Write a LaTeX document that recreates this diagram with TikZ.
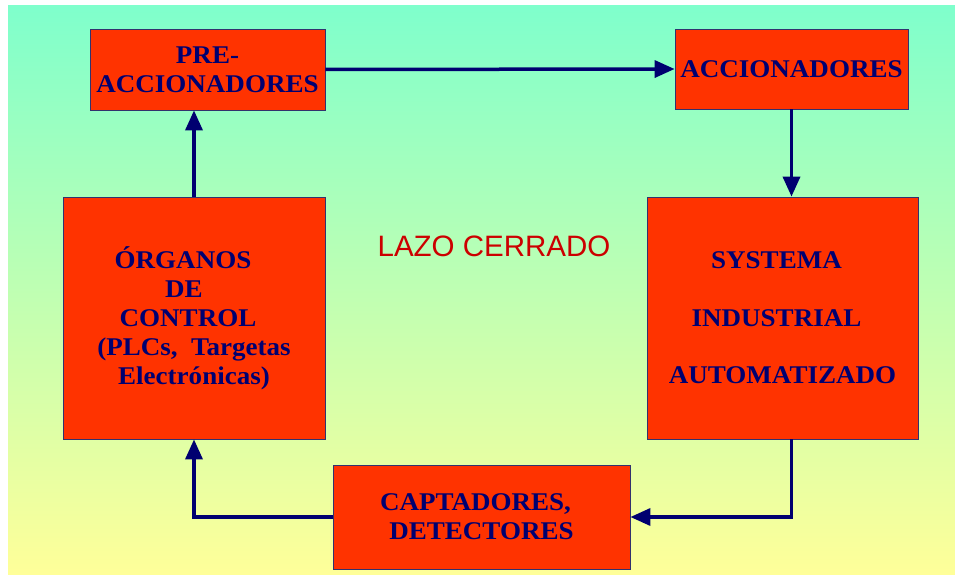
\documentclass[tikz,border=0pt]{standalone}
\usepackage{fontspec}
\setmainfont{Liberation Serif}
\newfontfamily\boxfont[FakeStretch=1.06]{Liberation Serif}
\newfontfamily\arialf{Liberation Sans}
\usetikzlibrary{arrows.meta,calc}
\definecolor{bgtop}{RGB}{127,255,204}
\definecolor{bgbot}{RGB}{255,255,153}
\definecolor{boxred}{RGB}{255,51,0}
\definecolor{navy}{RGB}{0,0,112}
\definecolor{boxline}{RGB}{50,50,110}
\definecolor{titlered}{RGB}{204,0,0}
\begin{document}
\begin{tikzpicture}[x=1pt,y=-1pt,
  redbox/.style={draw=boxline,line width=0.8pt,fill=boxred,inner sep=0pt,
    align=center,text=navy,font=\boxfont\bfseries\fontsize{25.5}{29}\selectfont},
  flow/.style={draw=navy,line width=3.5pt,-{Triangle[length=20pt,width=17pt]}}]
\useasboundingbox (0,0) rectangle (955,575);
\fill[white] (0,0) rectangle (955,575);
\shade[top color=bgtop,bottom color=bgbot] (8,6) rectangle (955,575);

\node[redbox,minimum width=235pt,minimum height=81pt] (pre) at (207.5,69.5)
  {PRE-\\ACCIONADORES};
\node[redbox,minimum width=233pt,minimum height=80pt] (acc) at (791.5,69)
  {ACCIONADORES};
\node[redbox,minimum width=262pt,minimum height=242pt] (org) at (194,318)
  {ÓRGANOS\kern22pt\mbox{}\\DE\kern20pt\mbox{}\\CONTROL\kern12pt\mbox{}\\(PLCs,\ \ Targetas\\Electrónicas)};
\node[redbox,minimum width=271pt,minimum height=242pt] (sys) at (782.5,318)
  {SYSTEMA\kern12pt\mbox{}\\[28.5pt]INDUSTRIAL\kern12pt\mbox{}\\[28.5pt]AUTOMATIZADO};
\node[redbox,minimum width=297pt,minimum height=104pt] (cap) at (481.5,517)
  {CAPTADORES,\kern12pt\mbox{}\\DETECTORES};

\node[text=titlered,font=\arialf\fontsize{29.5}{34}\selectfont,anchor=base] (title) at (494,256) {LAZO CERRADO};

\draw[flow] (pre.east) -- (acc.west);
\draw[flow] (acc.south) -- (acc.south |- sys.north);
\draw[flow] (acc.south |- sys.south) |- (cap.east);
\draw[flow] (cap.west) -| (org.south);
\draw[flow] (org.north) -- (org.north |- pre.south);
\end{tikzpicture}
\end{document}
